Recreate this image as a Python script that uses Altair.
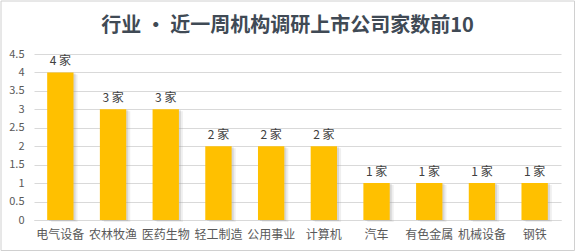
import altair as alt
import pandas as pd

categories = ["电气设备", "农林牧渔", "医药生物", "轻工制造", "公用事业", "计算机", "汽车", "有色金属", "机械设备", "钢铁"]
counts = [4, 3, 3, 2, 2, 2, 1, 1, 1, 1]
labels = [f"{c} 家" for c in counts]
y_ticks = [0, 0.5, 1, 1.5, 2, 2.5, 3, 3.5, 4, 4.5]
title_text = "行业 • 近一周机构调研上市公司家数前10"

df = pd.DataFrame({"industry": categories, "count": counts, "label": labels})

FONT = "Noto Sans CJK SC"
W, H = 527, 166
PL, PT, PR, PB = 34, 54, 15, 32

xenc = alt.X("industry:N", sort=categories,
             scale=alt.Scale(paddingInner=0.5, paddingOuter=0.25),
             axis=alt.Axis(title=None, labelAngle=0, labelFont=FONT, labelFontSize=12,
                           labelColor="#595959", ticks=False, domain=True,
                           domainColor="#d9d9d9", labelPadding=9))
yenc = alt.Y("count:Q", scale=alt.Scale(domain=[0, 4.5], nice=False),
             axis=alt.Axis(title=None, values=y_ticks, format="~g", labelFont=FONT,
                           labelFontSize=11, labelColor="#595959", ticks=False,
                           domain=False, gridColor="#d9d9d9", labelPadding=10,
                           labelOverlap=False))

base = alt.Chart(df).encode(x=xenc, y=yenc)

shadow1 = base.mark_bar(color="#9a9a9a", opacity=0.28, xOffset=2, yOffset=1)
shadow2 = base.mark_bar(color="#9a9a9a", opacity=0.16, xOffset=4, yOffset=2)
bars = base.mark_bar(color="#FFC000")
text = base.mark_text(dy=-11, font=FONT, fontSize=12, color="#404040").encode(text="label:N")

frame = alt.Chart(pd.DataFrame({"k": [0]})).mark_rect(
    fill=None, stroke="#d0d0d0", strokeWidth=1).encode(
    x=alt.value(-PL + 1), x2=alt.value(W + PR - 1.5),
    y=alt.value(-PT + 1), y2=alt.value(H + PB - 1.5))

chart = alt.layer(shadow2, shadow1, bars, text, frame).properties(
    width=W, height=H,
    padding={"left": PL, "top": PT, "right": PR, "bottom": PB},
    autosize=alt.AutoSizeParams(type="none"),
    background="white",
    title=alt.TitleParams(title_text, font=FONT, fontSize=20, fontWeight="bold",
                          color="#404a55", anchor="middle", dx=-10, offset=14, dy=49),
).configure_view(stroke=None)

chart.save("out.html", embed_options={"renderer": "svg", "actions": False})
